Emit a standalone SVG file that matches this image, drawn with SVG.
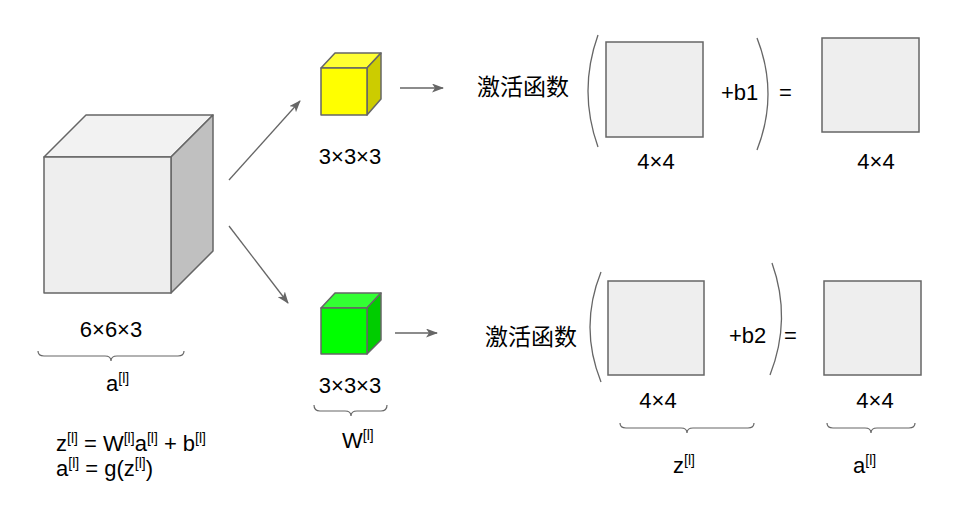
<svg xmlns="http://www.w3.org/2000/svg" width="974" height="513" viewBox="0 0 974 513">
<defs>
<marker id="arr" viewBox="0 0 12 9" refX="11" refY="4.5" markerWidth="12" markerHeight="9" markerUnits="userSpaceOnUse" orient="auto">
<path d="M0,0 L12,4.5 L0,9 L3,4.5 z" fill="#666666"/>
</marker>
<style>
.t{font-family:"Liberation Sans","Noto Sans CJK SC",Arial,sans-serif;font-size:22px;fill:#000}
.s{font-size:14px}
.e{stroke:#666666;stroke-width:1.5;stroke-linejoin:round}
.sq{fill:#eeeeee;stroke:#666666;stroke-width:1.5}
.br{fill:none;stroke:#666666;stroke-width:1.2}
.ln{fill:none;stroke:#666666;stroke-width:1.3}
</style>
</defs>
<rect width="974" height="513" fill="#ffffff"/>

<g id="cube-input">
<polygon class="e" points="44,157 86,115 213,115 171,157" fill="#f2f2f2"/>
<polygon class="e" points="171,157 213,115 213,251 171,293" fill="#c0c0c0"/>
<rect class="e" x="44" y="157" width="127" height="136" fill="#eeeeee"/>
<text class="t" x="111" y="337" text-anchor="middle">6×6×3</text>
<path class="br" d="M38,351 Q38,356 44,356 L105,356 Q111,356 111,361 Q111,356 117,356 L178,356 Q184,356 184,351"/>
<text class="t" x="106" y="391">a<tspan class="s" dy="-8">[l]</tspan></text>
</g>

<g id="formula">
<text class="t" x="56" y="451">z<tspan class="s" dy="-8">[l]</tspan><tspan dy="8"> = W</tspan><tspan class="s" dy="-8">[l]</tspan><tspan dy="8">a</tspan><tspan class="s" dy="-8">[l]</tspan><tspan dy="8"> + b</tspan><tspan class="s" dy="-8">[l]</tspan></text>
<text class="t" x="56" y="476">a<tspan class="s" dy="-8">[l]</tspan><tspan dy="8"> = g(z</tspan><tspan class="s" dy="-8">[l]</tspan><tspan dy="8">)</tspan></text>
</g>

<g id="cube-yellow">
<polygon class="e" points="321,68 335,53 381,53 367,68" fill="#ffff33"/>
<polygon class="e" points="367,68 381,53 381,99 367,115" fill="#cccc00"/>
<rect class="e" x="321" y="68" width="46" height="47" fill="#ffff00"/>
<text class="t" x="350" y="164" text-anchor="middle">3×3×3</text>
</g>

<g id="cube-green">
<polygon class="e" points="321,308 335,293 381,293 367,308" fill="#33ff33"/>
<polygon class="e" points="367,308 381,293 381,340 367,354" fill="#00cc00"/>
<rect class="e" x="321" y="308" width="46" height="46" fill="#00ff00"/>
<text class="t" x="350" y="393" text-anchor="middle">3×3×3</text>
<path class="br" d="M314,405 Q314,411 320,411 L345,411 Q351,411 351,416 Q351,411 357,411 L381,411 Q387,411 387,405"/>
<text class="t" x="342" y="448">W<tspan class="s" dy="-8">[l]</tspan></text>
</g>

<g id="top-row">
<text class="t" x="477" y="95" style="font-size:23px">激活函数</text>
<path class="ln" d="M598,35 Q578,91 598,147"/>
<rect class="sq" x="606" y="42" width="97" height="95"/>
<text class="t" x="721" y="100">+b1</text>
<path class="ln" d="M757,38 Q779,94 757,150"/>
<text class="t" x="779" y="100">=</text>
<text class="t" x="656" y="169" text-anchor="middle">4×4</text>
<rect class="sq" x="822" y="38" width="97" height="94"/>
<text class="t" x="876" y="169" text-anchor="middle">4×4</text>
</g>

<g id="bottom-row">
<text class="t" x="485" y="345" style="font-size:23px">激活函数</text>
<path class="ln" d="M601,272 Q579,327 601,382"/>
<rect class="sq" x="608" y="281" width="96" height="94"/>
<text class="t" x="729" y="343">+b2</text>
<path class="ln" d="M772,263 Q792,319 770,375"/>
<text class="t" x="784" y="343">=</text>
<rect class="sq" x="824" y="281" width="97" height="94"/>
<text class="t" x="658" y="408" text-anchor="middle">4×4</text>
<text class="t" x="875" y="408" text-anchor="middle">4×4</text>
<path class="br" d="M620,423 Q620,428 626,428 L681,428 Q687,428 687,433 Q687,428 693,428 L748,428 Q754,428 754,423"/>
<path class="br" d="M827,423 Q827,428 833,428 L865,428 Q871,428 871,433 Q871,428 877,428 L909,428 Q915,428 915,423"/>
<text class="t" x="673" y="473">z<tspan class="s" dy="-8">[l]</tspan></text>
<text class="t" x="853" y="473">a<tspan class="s" dy="-8">[l]</tspan></text>
</g>

<g id="connectors">
<line class="ln" x1="229" y1="180" x2="300" y2="101" marker-end="url(#arr)"/>
<line class="ln" x1="229" y1="226" x2="288" y2="303" marker-end="url(#arr)"/>
<line class="ln" x1="400" y1="88" x2="443" y2="88" marker-end="url(#arr)"/>
<line class="ln" x1="395" y1="333" x2="437" y2="333" marker-end="url(#arr)"/>
</g>
</svg>
